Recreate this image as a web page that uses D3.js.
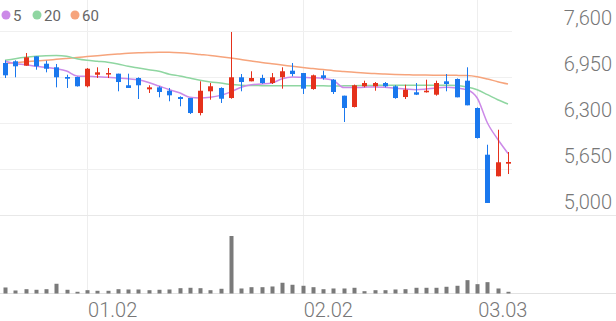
<!DOCTYPE html>
<html>
<head>
<meta charset="utf-8">
<script src="https://cdn.jsdelivr.net/npm/d3@7"></script>
<style>
  html, body { margin: 0; padding: 0; background: #fff; }
  svg { display: block; }
  text { font-family: Roboto, "Noto Sans", sans-serif; }
</style>
</head>
<body>
<div id="chart"></div>
<script>
// ---- data ----
const dates = ["12.18","12.19","12.22","12.23","12.24","12.26","12.29","12.30",
  "01.02","01.05","01.06","01.07","01.08","01.09","01.12","01.13","01.14","01.15","01.16",
  "01.19","01.20","01.21","01.22","01.23","01.26","01.27","01.28","01.29","01.30",
  "02.02","02.03","02.04","02.05","02.06","02.09","02.10","02.11","02.12","02.13",
  "02.19","02.20","02.23","02.24","02.25","02.26","02.27","03.03","03.04","03.05","03.06"];
const open  = [7148,7172,7110,7242,7138,7087,6950,6950,6819,6982,6992,6997,6833,6936,6776,6804,6756,6667,6653,6441,6748,6795,6653,6946,6889,6936,6865,6946,7039,7006,6780,6974,6912,6686,6526,6819,6819,6865,6819,6667,6734,6734,6700,6889,6922,6898,6512,5852,5547,5725];
const high  = [7186,7186,7289,7242,7180,7134,6982,6955,7077,7087,7077,6997,6997,6945,6833,6820,6795,6677,6653,6889,6865,6804,7586,6992,7031,6982,7006,7087,7148,7006,6984,7039,6920,6686,6843,6898,6879,6879,6833,6841,6865,6912,6898,6992,6930,7087,6520,5993,6205,5890];
const low   = [6936,6946,7110,7053,7016,6804,6795,6815,6804,6936,6936,6748,6795,6639,6724,6663,6607,6536,6427,6408,6629,6583,6643,6748,6889,6855,6851,6785,6960,6710,6770,6912,6710,6314,6520,6804,6756,6804,6643,6639,6695,6730,6686,6748,6663,6550,6080,5170,5547,5579];
const close = [6974,7101,7228,7101,7067,6946,6926,6819,7067,7016,7006,6879,6795,6833,6804,6738,6691,6639,6441,6756,6819,6643,6946,6879,6936,6865,6946,7031,6992,6785,6974,6936,6738,6512,6833,6865,6865,6819,6653,6771,6700,6756,6865,6851,6663,6550,6088,5170,5745,5749];
const volume = [60,30,43,37,43,97,37,17,33,27,27,43,40,40,33,37,40,53,57,53,33,47,573,50,63,63,70,107,87,77,63,43,50,50,57,23,33,33,40,43,57,57,57,67,77,133,93,113,50,17];
const ma5  = [7172,7138,7124,7101,7085,7067,7035,6965,6960,6952,6946,6936,6926,6910,6872,6822,6771,6728,6663,6653,6663,6690,6740,6806,6841,6851,6865,6926,6950,6945,6940,6930,6900,6800,6800,6805,6810,6805,6790,6780,6771,6780,6795,6804,6795,6771,6653,6300,6070,5870];
const ma20 = [7186,7209,7228,7242,7251,7253,7242,7209,7186,7172,7158,7134,7101,7077,7053,7031,6990,6965,6936,6905,6880,6865,6845,6835,6830,6828,6826,6825,6825,6825,6825,6825,6823,6825,6828,6830,6832,6833,6833,6833,6833,6833,6833,6832,6830,6810,6770,6700,6628,6568];
const ma60 = [7141,7152,7165,7176,7187,7200,7213,7226,7238,7251,7264,7275,7285,7292,7296,7299,7298,7292,7282,7268,7254,7237,7218,7197,7176,7155,7137,7120,7101,7084,7069,7055,7040,7028,7016,7007,6998,6992,6987,6983,6978,6977,6975,6974,6973,6970,6954,6922,6884,6851];
const yTicks = [5000, 5650, 6300, 6950, 7600];
const xTickLabels = ["01.02", "02.02", "03.03"];
const legendLabels = ["5", "20", "60"];

// ---- styles ----
const W = 616, H = 321;
const UP = "#e5311b", DOWN = "#1a78ee";
const maColors = ["#cc8ae8", "#8fd6a1", "#f6a47c"];

const svg = d3.select("#chart").append("svg").attr("width", W).attr("height", H);

const x = d3.scalePoint().domain(dates).range([5, 508]);
const y = d3.scaleLinear().domain([5000, 7600]).range([215, 31]);
const yv = d3.scaleLinear().domain([0, d3.max(volume)]).range([293.5, 236]);

// vertical grid lines
svg.append("g").selectAll("line").data(xTickLabels).join("line")
  .attr("x1", d => Math.round(x(d)) + 0.5).attr("x2", d => Math.round(x(d)) + 0.5)
  .attr("y1", 0).attr("y2", 293)
  .attr("stroke", "#eeeeee").attr("stroke-width", 1);

// horizontal grid lines (price)
svg.append("g").selectAll("line").data(yTicks.filter(d => d !== 5000)).join("line")
  .attr("x1", 0).attr("x2", 512)
  .attr("y1", d => Math.round(y(d)) + 0.5).attr("y2", d => Math.round(y(d)) + 0.5)
  .attr("stroke", "#f0f0f0").attr("stroke-width", 1);

// bottom of price panel
svg.append("line").attr("x1", 0).attr("x2", W)
  .attr("y1", Math.round(y(5000)) + 0.5).attr("y2", Math.round(y(5000)) + 0.5)
  .attr("stroke", "#e8e8e8");

// volume baseline
svg.append("line").attr("x1", 0).attr("x2", W)
  .attr("y1", 293.5).attr("y2", 293.5).attr("stroke", "#e2e2e2");

// y tick labels
svg.append("g").selectAll("text").data(yTicks).join("text")
  .attr("x", 612).attr("y", d => y(d) - 6)
  .attr("text-anchor", "end")
  .attr("font-size", 20).attr("font-weight", 300)
  .attr("fill", "#777")
  .text(d => d3.format(",")(d));

// x tick labels
svg.append("g").selectAll("text").data(xTickLabels).join("text")
  .attr("x", d => x(d) + 1).attr("y", 317)
  .attr("font-size", 20).attr("font-weight", 300)
  .attr("fill", "#777")
  .text(d => d);

// moving average lines
const mas = [ma5, ma20, ma60];
const line = d3.line().x((d, i) => x(dates[i])).y(d => y(d)).curve(d3.curveMonotoneX);
[2, 1, 0].forEach(k => {
  svg.append("path").datum(mas[k])
    .attr("d", line).attr("fill", "none")
    .attr("stroke", maColors[k]).attr("stroke-width", 1.5);
});

// candles
const idx = d3.range(dates.length);
const cg = svg.append("g");
cg.selectAll("line").data(idx).join("line")
  .attr("x1", i => Math.round(x(dates[i])) + 0.5).attr("x2", i => Math.round(x(dates[i])) + 0.5)
  .attr("y1", i => y(high[i])).attr("y2", i => y(low[i]))
  .attr("stroke", i => close[i] >= open[i] ? UP : DOWN).attr("stroke-width", 1);
cg.selectAll("rect").data(idx).join("rect")
  .attr("x", i => Math.round(x(dates[i])) - 2)
  .attr("width", 5)
  .attr("y", i => y(Math.max(open[i], close[i])))
  .attr("height", i => Math.max(1.5, Math.abs(y(open[i]) - y(close[i]))))
  .attr("fill", i => close[i] >= open[i] ? UP : DOWN);

// volume bars
svg.append("g").selectAll("rect").data(idx).join("rect")
  .attr("x", i => Math.round(x(dates[i])) - 1.5)
  .attr("width", 4)
  .attr("y", i => yv(volume[i]))
  .attr("height", i => yv(0) - yv(volume[i]))
  .attr("fill", "#7a7a7a");

// legend
const lg = svg.append("g");
const legendX = [6, 37, 75];
legendLabels.forEach((t, k) => {
  lg.append("circle").attr("cx", legendX[k]).attr("cy", 15).attr("r", 4.5).attr("fill", maColors[k]);
  lg.append("text").attr("x", legendX[k] + 7).attr("y", 20.5)
    .attr("font-size", 15).attr("fill", "#666").text(t);
});
</script>
</body>
</html>
